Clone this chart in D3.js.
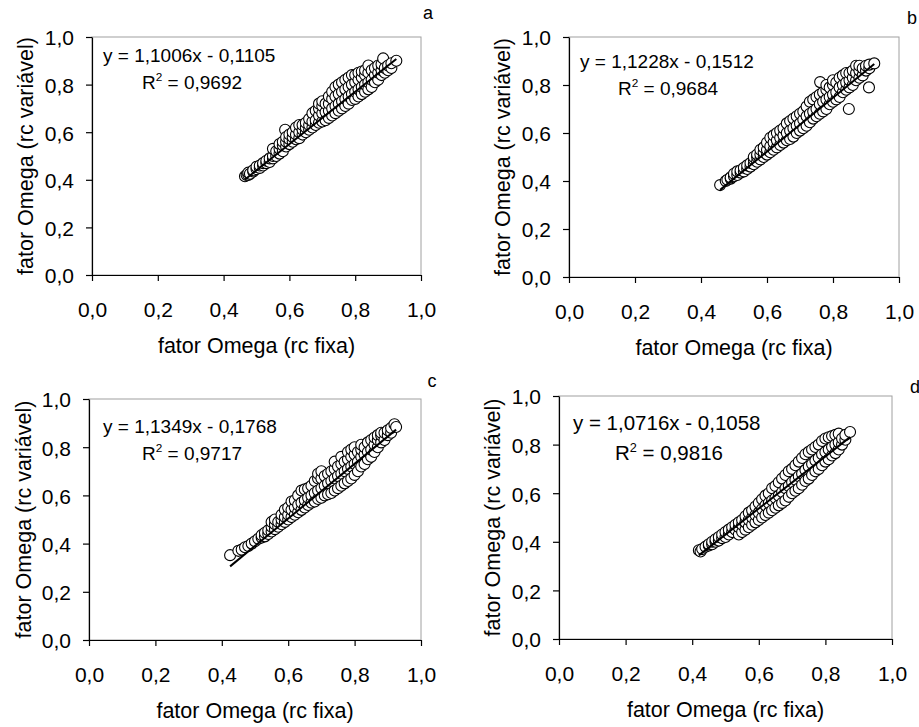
<!DOCTYPE html>
<html>
<head>
<meta charset="utf-8">
<script src="https://cdn.jsdelivr.net/npm/d3@7"></script>
<style>
  body { margin: 0; background: #fff; }
  svg { display: block; }
  text { font-family: Arial, "Liberation Sans", sans-serif; fill: #000; }
</style>
</head>
<body>
<div id="chart"></div>
<script>
/*
------------------------------
DATA: points
each entry: [x (rc fixa), [y values (rc variável) seen at that x]]
------------------------------
*/
let columnsA = [
  [0.465,[0.415]],[0.47,[0.42]],[0.475,[0.42,0.43]],[0.48,[0.425]],[0.49,[0.435,0.44]],
  [0.50,[0.445,0.455]],[0.51,[0.45,0.46]],[0.52,[0.46,0.47]],[0.53,[0.47,0.48]],[0.54,[0.475,0.49]],
  [0.55,[0.49,0.50,0.53]],[0.56,[0.50,0.52]],[0.57,[0.51,0.53,0.55]],[0.58,[0.52,0.545,0.56]],[0.587,[0.61]],
  [0.59,[0.54,0.56,0.58]],[0.60,[0.55,0.57,0.59]],[0.61,[0.56,0.58,0.60]],[0.62,[0.57,0.59,0.62]],
  [0.63,[0.575,0.60,0.63]],[0.64,[0.59,0.61,0.63]],[0.65,[0.60,0.62,0.64]],[0.66,[0.61,0.63,0.655]],
  [0.67,[0.62,0.645,0.68]],[0.68,[0.63,0.65,0.69]],[0.69,[0.64,0.67,0.70,0.72]],[0.70,[0.645,0.68,0.71,0.73]],
  [0.71,[0.65,0.685,0.72]],[0.72,[0.66,0.69,0.72,0.75]],[0.73,[0.67,0.70,0.74,0.77]],[0.74,[0.68,0.71,0.75,0.79]],
  [0.75,[0.69,0.72,0.76,0.80]],[0.76,[0.70,0.73,0.77,0.81]],[0.77,[0.71,0.74,0.78,0.82]],[0.78,[0.72,0.75,0.79,0.83]],
  [0.79,[0.735,0.76,0.80,0.84]],[0.80,[0.74,0.77,0.81,0.84]],[0.81,[0.75,0.78,0.82,0.85]],[0.82,[0.76,0.79,0.83,0.855]],
  [0.83,[0.77,0.80,0.84,0.86]],[0.84,[0.78,0.81,0.85,0.88]],[0.85,[0.79,0.82,0.86]],[0.86,[0.81,0.84,0.87]],
  [0.87,[0.82,0.85,0.88]],[0.88,[0.84,0.86,0.885]],[0.885,[0.91]],[0.89,[0.85,0.87]],[0.90,[0.86,0.88]],
  [0.91,[0.87,0.89]],[0.925,[0.90]]
];
let columnsB = [
  [0.458,[0.383]],[0.475,[0.40]],[0.48,[0.405]],[0.49,[0.41,0.415]],[0.50,[0.42,0.43]],[0.51,[0.425,0.44]],
  [0.52,[0.435,0.445]],[0.53,[0.44,0.455]],[0.54,[0.45,0.465]],[0.55,[0.46,0.475]],[0.56,[0.47,0.49,0.50]],
  [0.57,[0.48,0.50,0.51]],[0.58,[0.49,0.51,0.53]],[0.59,[0.50,0.52,0.54]],[0.60,[0.51,0.53,0.56]],
  [0.61,[0.52,0.545,0.58]],[0.62,[0.53,0.56,0.59]],[0.63,[0.54,0.57,0.60]],[0.64,[0.55,0.58,0.61]],
  [0.65,[0.56,0.59,0.62]],[0.66,[0.57,0.60,0.64]],[0.67,[0.575,0.61,0.65]],[0.68,[0.585,0.62,0.66]],
  [0.69,[0.60,0.63,0.67]],[0.70,[0.61,0.64,0.68]],[0.71,[0.62,0.655,0.69]],[0.72,[0.63,0.67,0.71]],
  [0.73,[0.645,0.68,0.73]],[0.74,[0.66,0.69,0.74]],[0.75,[0.67,0.70,0.75]],[0.76,[0.68,0.72,0.76]],
  [0.761,[0.812]],[0.77,[0.69,0.73,0.77]],[0.78,[0.70,0.74,0.78,0.80]],[0.79,[0.72,0.75,0.79]],
  [0.80,[0.73,0.76,0.80,0.82]],[0.81,[0.74,0.77,0.81]],[0.82,[0.75,0.79,0.83]],[0.83,[0.77,0.80,0.84]],
  [0.84,[0.78,0.81,0.85]],[0.848,[0.70]],[0.85,[0.79,0.82,0.85]],[0.86,[0.80,0.83,0.86]],
  [0.87,[0.82,0.85,0.88]],[0.88,[0.83,0.86,0.88]],[0.89,[0.84,0.87]],[0.90,[0.86,0.88]],
  [0.909,[0.79]],[0.91,[0.87,0.885]],[0.925,[0.89]]
];
let columnsC = [
  [0.425,[0.352]],[0.45,[0.37]],[0.46,[0.375]],[0.47,[0.385]],[0.48,[0.39]],[0.49,[0.40]],[0.50,[0.41]],
  [0.51,[0.42]],[0.52,[0.425,0.435]],[0.53,[0.43,0.445]],[0.54,[0.44,0.455]],[0.55,[0.45,0.47,0.49]],
  [0.56,[0.46,0.48,0.50]],[0.57,[0.47,0.49]],[0.58,[0.48,0.50,0.52]],[0.59,[0.49,0.51,0.54]],
  [0.60,[0.50,0.52,0.55]],[0.61,[0.51,0.54,0.575]],[0.62,[0.52,0.55,0.58]],[0.63,[0.53,0.56,0.60]],
  [0.64,[0.54,0.57,0.62]],[0.65,[0.55,0.58,0.625]],[0.66,[0.56,0.59,0.63]],[0.67,[0.57,0.60,0.64]],
  [0.68,[0.575,0.61,0.66]],[0.69,[0.585,0.62,0.67,0.69]],[0.70,[0.59,0.63,0.67,0.70]],[0.71,[0.60,0.64,0.68]],
  [0.72,[0.605,0.65,0.69]],[0.73,[0.61,0.66,0.70]],[0.74,[0.62,0.67,0.71,0.74]],[0.75,[0.63,0.68,0.72]],
  [0.76,[0.64,0.69,0.73,0.76]],[0.77,[0.65,0.70,0.74]],[0.78,[0.66,0.71,0.75,0.78]],[0.79,[0.67,0.72,0.76,0.79]],
  [0.80,[0.685,0.73,0.77,0.80]],[0.81,[0.70,0.74,0.78]],[0.82,[0.72,0.76,0.79,0.81]],[0.83,[0.73,0.77,0.80]],
  [0.84,[0.75,0.78,0.82]],[0.85,[0.76,0.79,0.83]],[0.86,[0.78,0.81,0.84]],[0.87,[0.80,0.83,0.85]],
  [0.88,[0.82,0.85,0.86]],[0.89,[0.83,0.86]],[0.90,[0.85,0.87]],[0.91,[0.86,0.88]],[0.92,[0.895]],[0.925,[0.884]]
];
let columnsD = [
  [0.42,[0.365]],[0.425,[0.36]],[0.43,[0.37]],[0.44,[0.38]],[0.45,[0.385,0.39]],[0.46,[0.39,0.40]],
  [0.47,[0.40,0.41]],[0.48,[0.405,0.42]],[0.49,[0.415,0.43]],[0.50,[0.42,0.44]],[0.51,[0.43,0.45]],
  [0.52,[0.44,0.46]],[0.53,[0.45,0.47]],[0.54,[0.43,0.46,0.48]],[0.55,[0.44,0.47,0.49]],[0.56,[0.45,0.48,0.505]],
  [0.57,[0.46,0.49,0.52]],[0.58,[0.47,0.50,0.53]],[0.59,[0.48,0.51,0.545]],[0.60,[0.49,0.52,0.56]],
  [0.61,[0.50,0.535,0.575]],[0.62,[0.51,0.55,0.59]],[0.63,[0.52,0.56,0.60]],[0.64,[0.53,0.57,0.62]],
  [0.65,[0.54,0.58,0.63]],[0.66,[0.55,0.59,0.645]],[0.67,[0.56,0.605,0.66]],[0.68,[0.57,0.62,0.675]],
  [0.69,[0.585,0.63,0.69]],[0.70,[0.60,0.645,0.70]],[0.71,[0.61,0.655,0.715]],[0.72,[0.62,0.67,0.73]],
  [0.73,[0.635,0.68,0.745]],[0.74,[0.65,0.695,0.76]],[0.75,[0.66,0.71,0.77]],[0.76,[0.675,0.72,0.78]],
  [0.77,[0.69,0.735,0.79]],[0.78,[0.70,0.745,0.80]],[0.79,[0.715,0.76,0.815]],[0.80,[0.73,0.77,0.825]],
  [0.81,[0.74,0.78,0.83]],[0.82,[0.755,0.79,0.835]],[0.83,[0.765,0.80,0.84]],[0.84,[0.78,0.81,0.845]],
  [0.85,[0.80,0.825]],[0.86,[0.82,0.84]],[0.874,[0.852]]
];

// trendline coefficients and labels as printed on the chart
let slopes = [1.1006, 1.1228, 1.1349, 1.0716];
let intercepts = [-0.1105, -0.1512, -0.1768, -0.1058];
let equations = ["y = 1,1006x - 0,1105", "y = 1,1228x - 0,1512", "y = 1,1349x - 0,1768", "y = 1,0716x - 0,1058"];
let r2Labels = ["0,9692", "0,9684", "0,9717", "0,9816"];
let panelLetters = ["a", "b", "c", "d"];
let tickValues = [0, 0.2, 0.4, 0.6, 0.8, 1.0];
let xTitle = "fator Omega (rc fixa)";
let yTitle = "fator Omega (rc variável)";

/*
------------------------------
LAYOUT: pixel boxes of each panel
------------------------------
*/
let width = 919;
let height = 727;
let layout = [
  {left: 92,  top: 37,  right: 421, bottom: 275, letterX: 428, letterY: 19,  eqX: 103, eqY: 62,  r2X: 142, r2Y: 89,  yTitleX: 25,  eqSize: 19},
  {left: 569, top: 37,  right: 899, bottom: 277, letterX: 912, letterY: 24,  eqX: 580, eqY: 68,  r2X: 618, r2Y: 95,  yTitleX: 502, eqSize: 19},
  {left: 89,  top: 399, right: 421, bottom: 640, letterX: 432, letterY: 387, eqX: 103, eqY: 433, r2X: 142, r2Y: 460, yTitleX: 23,  eqSize: 19},
  {left: 559, top: 396, right: 892, bottom: 639, letterX: 915, letterY: 393, eqX: 573, eqY: 430, r2X: 615, r2Y: 460, yTitleX: 492, eqSize: 20.5}
];
let allColumns = [columnsA, columnsB, columnsC, columnsD];

let fmt = v => d3.format(".1f")(v).replace(".", ",");

let svg = d3.select("#chart")
  .append("svg")
  .attr("width", width)
  .attr("height", height);

layout.forEach(function (box, i) {
  // flatten [x, [ys]] into [x, y] pairs
  let data = allColumns[i].flatMap(c => c[1].map(v => [c[0], v]));
  let g = svg.append("g");

  let x = d3.scaleLinear().domain([0, 1]).range([box.left, box.right]);
  let y = d3.scaleLinear().domain([0, 1]).range([box.bottom, box.top]);

  // grey frame (top and right sides show)
  g.append("rect")
    .attr("x", box.left).attr("y", box.top)
    .attr("width", box.right - box.left).attr("height", box.bottom - box.top)
    .attr("fill", "none").attr("stroke", "#a0a0a0").attr("stroke-width", 1);

  // axes
  let xAxis = d3.axisBottom(x).tickValues(tickValues).tickFormat(fmt).tickSizeInner(6).tickSizeOuter(0).tickPadding(21);
  let yAxis = d3.axisLeft(y).tickValues(tickValues).tickFormat(fmt).tickSizeInner(6).tickSizeOuter(0).tickPadding(12);

  g.append("g")
    .attr("transform", "translate(0," + box.bottom + ")")
    .call(xAxis)
    .call(a => a.selectAll("text").attr("font-size", 21).attr("font-family", null).attr("fill", "#000"))
    .call(a => a.selectAll("line,path").attr("stroke", "#000").attr("stroke-width", 1.2));

  g.append("g")
    .attr("transform", "translate(" + box.left + ",0)")
    .call(yAxis)
    .call(a => a.selectAll("text").attr("font-size", 21).attr("font-family", null).attr("fill", "#000").attr("dy", "0.38em"))
    .call(a => a.selectAll("line,path").attr("stroke", "#000").attr("stroke-width", 1.2));

  // points
  g.selectAll(".pt")
    .data(data)
    .enter()
    .append("circle")
    .attr("class", "pt")
    .attr("cx", d => x(d[0]))
    .attr("cy", d => y(d[1]))
    .attr("r", 5.5)
    .attr("fill", "#fff")
    .attr("stroke", "#000")
    .attr("stroke-width", 1.1);

  // linear trendline over the data range
  let ext = d3.extent(data, d => d[0]);
  g.append("line")
    .attr("x1", x(ext[0])).attr("y1", y(slopes[i] * ext[0] + intercepts[i]))
    .attr("x2", x(ext[1])).attr("y2", y(slopes[i] * ext[1] + intercepts[i]))
    .attr("stroke", "#000").attr("stroke-width", 2);

  // equation and R²
  g.append("text")
    .attr("x", box.eqX).attr("y", box.eqY)
    .attr("font-size", box.eqSize)
    .text(equations[i]);

  let r2 = g.append("text")
    .attr("x", box.r2X).attr("y", box.r2Y)
    .attr("font-size", box.eqSize);
  r2.append("tspan").text("R");
  r2.append("tspan").attr("font-size", box.eqSize * 0.62).attr("dy", -8).text("2");
  r2.append("tspan").attr("dy", 8).text(" = " + r2Labels[i]);

  // axis titles
  g.append("text")
    .attr("x", (box.left + box.right) / 2)
    .attr("y", box.bottom + 78)
    .attr("text-anchor", "middle")
    .attr("font-size", 21.5)
    .text(xTitle);

  g.append("text")
    .attr("transform", "translate(" + box.yTitleX + "," + ((box.top + box.bottom) / 2) + ") rotate(-90)")
    .attr("text-anchor", "middle")
    .attr("dy", "0.36em")
    .attr("font-size", 21.5)
    .text(yTitle);

  // panel letter
  g.append("text")
    .attr("x", box.letterX).attr("y", box.letterY)
    .attr("text-anchor", "middle")
    .attr("font-size", 18)
    .text(panelLetters[i]);
});
</script>
</body>
</html>
